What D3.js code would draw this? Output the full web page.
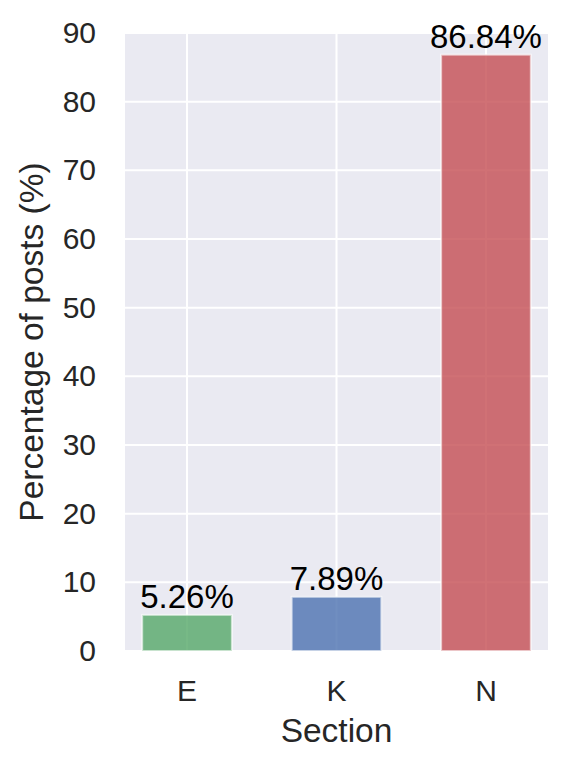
<!DOCTYPE html>
<html>
<head>
<meta charset="utf-8">
<script src="https://cdn.jsdelivr.net/npm/d3@7"></script>
<style>
  body { margin: 0; background: #fff; }
  svg { display: block; font-family: "Liberation Sans", Arial, sans-serif; }
</style>
</head>
<body>
<svg width="568" height="769"></svg>
<script>
// dados
const sections = ["E", "K", "N"];
const percents = [5.26, 7.89, 86.84];
const barColors = ["#55a868", "#4c72b0", "#c44e52"];
const yTicks = [0, 10, 20, 30, 40, 50, 60, 70, 80, 90];

const svg = d3.select("svg");
const margin = { left: 125, right: 20, top: 33, bottom: 118 };
const W = 568, H = 769;
const FONT = "Liberation Sans, Arial, sans-serif";

const x = d3.scaleBand()
  .domain(sections)
  .range([margin.left, W - margin.right])
  .paddingInner(0.4)
  .paddingOuter(0.115);

const y = d3.scaleLinear()
  .domain([0, 90])
  .range([H - margin.bottom, margin.top]);

// fundo do eixo
svg.append("rect")
  .attr("x", margin.left)
  .attr("y", margin.top)
  .attr("width", W - margin.right - margin.left)
  .attr("height", y(0) - margin.top)
  .attr("fill", "#eaeaf2");

// grade horizontal
svg.append("g")
  .selectAll("line")
  .data(yTicks)
  .enter()
  .append("line")
  .attr("x1", margin.left)
  .attr("x2", W - margin.right)
  .attr("y1", d => y(d))
  .attr("y2", d => y(d))
  .attr("stroke", "#fff")
  .attr("stroke-width", 2);

// grade vertical
svg.append("g")
  .selectAll("line")
  .data(sections)
  .enter()
  .append("line")
  .attr("x1", d => x(d) + x.bandwidth() / 2)
  .attr("x2", d => x(d) + x.bandwidth() / 2)
  .attr("y1", margin.top)
  .attr("y2", y(0))
  .attr("stroke", "#fff")
  .attr("stroke-width", 2);

// barras
svg.append("g")
  .selectAll("rect")
  .data(sections)
  .enter()
  .append("rect")
  .attr("x", d => x(d))
  .attr("y", (d, i) => y(percents[i]))
  .attr("width", x.bandwidth())
  .attr("height", (d, i) => y(0) - y(percents[i]))
  .attr("fill", (d, i) => barColors[i])
  .attr("fill-opacity", 0.8)
  .attr("stroke", "#fff")
  .attr("stroke-opacity", 0.6)
  .attr("stroke-width", 2);

// rótulos de valor
svg.append("g")
  .selectAll("text")
  .data(sections)
  .enter()
  .append("text")
  .attr("x", d => x(d) + x.bandwidth() / 2)
  .attr("y", (d, i) => y(percents[i]) - 7)
  .attr("text-anchor", "middle")
  .attr("font-size", 33)
  .attr("fill", "#000")
  .text((d, i) => percents[i].toFixed(2) + "%");

// eixo y
const yAxis = d3.axisLeft(y).tickValues(yTicks).tickSize(0).tickPadding(29);
svg.append("g")
  .attr("transform", `translate(${margin.left},0)`)
  .call(yAxis)
  .call(g => g.select(".domain").remove())
  .selectAll("text")
  .attr("font-size", 30)
  .attr("font-family", FONT)
  .attr("fill", "#262626");

// eixo x
const xAxis = d3.axisBottom(x).tickSize(0).tickPadding(29);
svg.append("g")
  .attr("transform", `translate(0,${y(0)})`)
  .call(xAxis)
  .call(g => g.select(".domain").remove())
  .selectAll("text")
  .attr("font-size", 30)
  .attr("font-family", FONT)
  .attr("fill", "#262626");

// títulos dos eixos
svg.append("text")
  .attr("x", (margin.left + W - margin.right) / 2)
  .attr("y", 742)
  .attr("text-anchor", "middle")
  .attr("font-size", 33.5)
  .attr("fill", "#262626")
  .text("Section");

svg.append("text")
  .attr("transform", `translate(43,${(margin.top + y(0)) / 2}) rotate(-90)`)
  .attr("text-anchor", "middle")
  .attr("font-size", 33.5)
  .attr("fill", "#262626")
  .text("Percentage of posts (%)");
</script>
</body>
</html>
